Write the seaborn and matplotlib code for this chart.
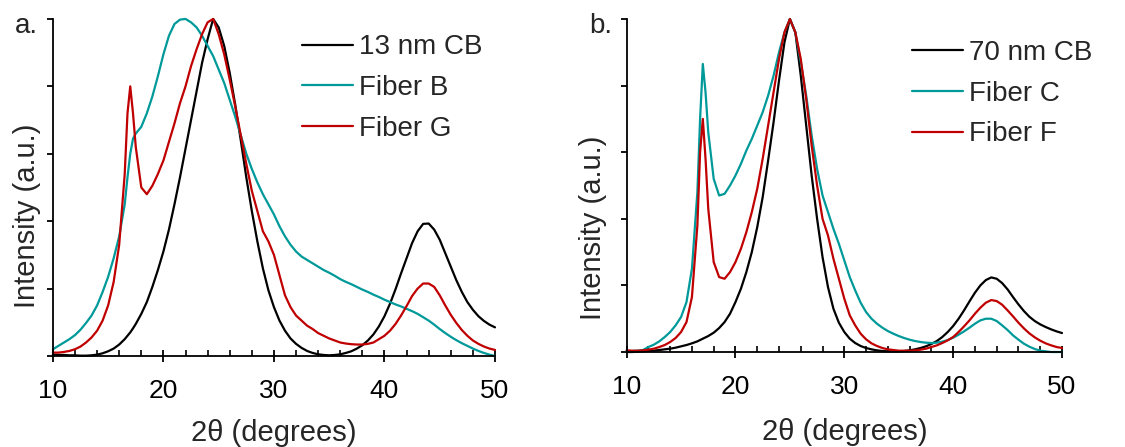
import matplotlib
matplotlib.use("Agg")
import matplotlib.pyplot as plt
from matplotlib.ticker import MultipleLocator
import pandas as pd
import seaborn as sns

# Common 2-theta grid (degrees), denser around the sharp 17 degree reflection
two_theta = [10, 10.5, 11, 11.5, 12, 12.5, 13, 13.5, 14, 14.5, 15, 15.5, 16, 16.5,
             16.75, 17, 17.25, 17.5, 18, 18.5, 19, 19.5, 20, 20.5, 21, 21.5, 22, 22.5,
             23, 23.5, 24, 24.5, 25, 25.5, 26, 26.5, 27, 27.5, 28, 28.5, 29, 29.5,
             30, 30.5, 31, 31.5, 32, 32.5, 33, 33.5, 34, 34.5, 35, 35.5, 36, 36.5,
             37, 37.5, 38, 38.5, 39, 39.5, 40, 40.5, 41, 41.5, 42, 42.5, 43, 43.5,
             44, 44.5, 45, 45.5, 46, 46.5, 47, 47.5, 48, 48.5, 49, 49.5, 50]

# Panel a: normalised intensities
cb13 = [0.004, 0.003, 0.003, 0.002, 0.002, 0.001, 0.001, 0.002, 0.004, 0.008, 0.014, 0.022, 0.034, 0.05,
        0.06, 0.07, 0.082, 0.095, 0.125, 0.16, 0.205, 0.255, 0.31, 0.375, 0.45, 0.53, 0.615, 0.70,
        0.785, 0.87, 0.94, 1.0, 0.975, 0.92, 0.84, 0.745, 0.64, 0.53, 0.43, 0.34, 0.26, 0.195,
        0.145, 0.105, 0.075, 0.052, 0.036, 0.024, 0.015, 0.009, 0.005, 0.003, 0.002, 0.003, 0.005, 0.009,
        0.014, 0.022, 0.032, 0.046, 0.064, 0.088, 0.118, 0.155, 0.198, 0.245, 0.29, 0.335, 0.37, 0.392,
        0.393, 0.375, 0.345, 0.305, 0.265, 0.225, 0.19, 0.16, 0.137, 0.118, 0.104, 0.093, 0.085]
fiber_b = [0.02, 0.03, 0.04, 0.05, 0.062, 0.078, 0.098, 0.12, 0.15, 0.19, 0.235, 0.29, 0.355, 0.45,
           0.53, 0.60, 0.645, 0.66, 0.68, 0.72, 0.77, 0.83, 0.895, 0.95, 0.985, 0.998, 1.0, 0.99,
           0.975, 0.95, 0.92, 0.89, 0.85, 0.81, 0.76, 0.71, 0.655, 0.60, 0.555, 0.515, 0.48, 0.45,
           0.42, 0.385, 0.355, 0.33, 0.31, 0.295, 0.285, 0.275, 0.265, 0.255, 0.247, 0.238, 0.228, 0.22,
           0.213, 0.205, 0.197, 0.19, 0.182, 0.175, 0.167, 0.16, 0.153, 0.147, 0.14, 0.133, 0.125, 0.115,
           0.105, 0.093, 0.08, 0.068, 0.057, 0.047, 0.038, 0.03, 0.022, 0.015, 0.009, 0.004, 0.0]
fiber_g = [0.01, 0.01, 0.012, 0.015, 0.02, 0.028, 0.04, 0.055, 0.075, 0.105, 0.15, 0.22, 0.33, 0.54,
           0.72, 0.80, 0.72, 0.62, 0.50, 0.48, 0.505, 0.54, 0.58, 0.635, 0.69, 0.75, 0.80, 0.86,
           0.91, 0.955, 0.99, 1.0, 0.955, 0.895, 0.82, 0.74, 0.655, 0.57, 0.49, 0.43, 0.37, 0.34,
           0.30, 0.24, 0.18, 0.145, 0.12, 0.105, 0.09, 0.08, 0.068, 0.06, 0.052, 0.046, 0.04, 0.037,
           0.035, 0.034, 0.034, 0.036, 0.04, 0.05, 0.06, 0.075, 0.095, 0.12, 0.148, 0.178, 0.20, 0.215,
           0.215, 0.205, 0.18, 0.15, 0.122, 0.098, 0.077, 0.06, 0.046, 0.036, 0.028, 0.022, 0.018]

# Panel b: normalised intensities
cb70 = [0.0, 0.0, 0.001, 0.002, 0.003, 0.004, 0.006, 0.008, 0.01, 0.013, 0.017, 0.021, 0.026, 0.032,
        0.036, 0.04, 0.044, 0.048, 0.058, 0.072, 0.09, 0.115, 0.15, 0.19, 0.24, 0.30, 0.375, 0.465,
        0.575, 0.69, 0.815, 0.93, 1.0, 0.96, 0.83, 0.68, 0.53, 0.40, 0.285, 0.195, 0.13, 0.088,
        0.06, 0.04, 0.027, 0.018, 0.012, 0.008, 0.005, 0.003, 0.002, 0.002, 0.002, 0.003, 0.005, 0.008,
        0.012, 0.017, 0.024, 0.033, 0.045, 0.06, 0.078, 0.10, 0.125, 0.152, 0.178, 0.20, 0.216, 0.224,
        0.22, 0.207, 0.188, 0.165, 0.143, 0.123, 0.106, 0.093, 0.083, 0.075, 0.068, 0.062, 0.057]
fiber_c = [0.003, 0.003, 0.004, 0.006, 0.015, 0.022, 0.032, 0.045, 0.06, 0.08, 0.105, 0.15, 0.25, 0.48,
           0.70, 0.865, 0.78, 0.66, 0.52, 0.47, 0.475, 0.50, 0.53, 0.565, 0.605, 0.64, 0.68, 0.72,
           0.77, 0.83, 0.90, 0.96, 1.0, 0.96, 0.87, 0.77, 0.65, 0.55, 0.47, 0.42, 0.37, 0.325,
           0.275, 0.225, 0.185, 0.148, 0.12, 0.10, 0.085, 0.073, 0.063, 0.055, 0.048, 0.042, 0.037, 0.033,
           0.03, 0.028, 0.027, 0.028, 0.031, 0.036, 0.043, 0.052, 0.062, 0.073, 0.085, 0.095, 0.10, 0.10,
           0.093, 0.08, 0.066, 0.05, 0.037, 0.025, 0.016, 0.009, 0.004, 0.002, 0.0, 0.0, 0.0]
fiber_f = [0.005, 0.004, 0.004, 0.005, 0.007, 0.01, 0.015, 0.021, 0.03, 0.042, 0.06, 0.09, 0.165, 0.38,
           0.60, 0.70, 0.58, 0.43, 0.27, 0.225, 0.22, 0.24, 0.27, 0.31, 0.36, 0.42, 0.49, 0.58,
           0.68, 0.78, 0.88, 0.96, 1.0, 0.96, 0.88, 0.76, 0.62, 0.50, 0.40, 0.35, 0.28, 0.22,
           0.16, 0.11, 0.08, 0.055, 0.038, 0.026, 0.018, 0.012, 0.008, 0.006, 0.004, 0.004, 0.004, 0.005,
           0.007, 0.01, 0.015, 0.02, 0.027, 0.035, 0.045, 0.06, 0.077, 0.095, 0.115, 0.133, 0.148, 0.156,
           0.153, 0.142, 0.125, 0.107, 0.088, 0.071, 0.056, 0.044, 0.034, 0.026, 0.02, 0.015, 0.012]

panels = [
    ("a.", [("13 nm CB", cb13), ("Fiber B", fiber_b), ("Fiber G", fiber_g)]),
    ("b.", [("70 nm CB", cb70), ("Fiber C", fiber_c), ("Fiber F", fiber_f)]),
]
colors = ["#000000", "#009999", "#C00000"]

sns.set_style("ticks")
plt.rcParams["font.family"] = ["Liberation Sans", "DejaVu Sans"]

fig = plt.figure(figsize=(11.25, 4.47), dpi=100)
axes = [fig.add_axes([0.047, 0.2036, 0.393, 0.754]),
        fig.add_axes([0.557, 0.2125, 0.387, 0.745])]
tag_x = [0.013, 0.524]
ylabel_pos = [(-0.027, 0.417), (-0.044, 0.374)]
xlabel_y = [-0.186, -0.198]
legend_anchor = [(0.563, 0.954), (0.655, 0.937)]

for i, (ax, (tag, series)) in enumerate(zip(axes, panels)):
    for (name, vals), col in zip(series, colors):
        df = pd.DataFrame({"two_theta": two_theta, "intensity": vals})
        sns.lineplot(data=df, x="two_theta", y="intensity", color=col, lw=1.6,
                     label=name, ax=ax, estimator=None, sort=True, clip_on=False)
    ax.set_xlim(10, 50)
    ax.set_ylim(0, 1.0)
    ax.xaxis.set_major_locator(MultipleLocator(10))
    ax.xaxis.set_minor_locator(MultipleLocator(2))
    ax.yaxis.set_major_locator(MultipleLocator(0.2))
    ax.set_yticklabels([])
    ax.tick_params(axis="x", which="major", direction="inout", length=9, width=1.3,
                   labelsize=19, pad=12, color="black", labelcolor="black")
    ax.tick_params(axis="x", which="minor", direction="in", length=4.5, width=1.2, color="black")
    ax.tick_params(axis="y", which="major", direction="out", length=4.5, width=1.3, color="black")
    for side in ("top", "right"):
        ax.spines[side].set_visible(False)
    for side in ("left", "bottom"):
        ax.spines[side].set_linewidth(1.3)
        ax.spines[side].set_color("black")
    ax.set_xlabel("2θ (degrees)", fontsize=21)
    ax.xaxis.set_label_coords(0.5, xlabel_y[i])
    ax.set_ylabel("Intensity (a.u.)", fontsize=21)
    ax.yaxis.set_label_coords(*ylabel_pos[i])
    ax.legend(loc="upper left", bbox_to_anchor=legend_anchor[i], frameon=False, fontsize=20,
              handlelength=1.83, handletextpad=0.22, labelspacing=0.53,
              borderaxespad=0.0, borderpad=0.0)
    fig.text(tag_x[i], 0.926, tag, fontsize=20, ha="left", va="baseline")

fig.savefig("out.png", dpi=100)
